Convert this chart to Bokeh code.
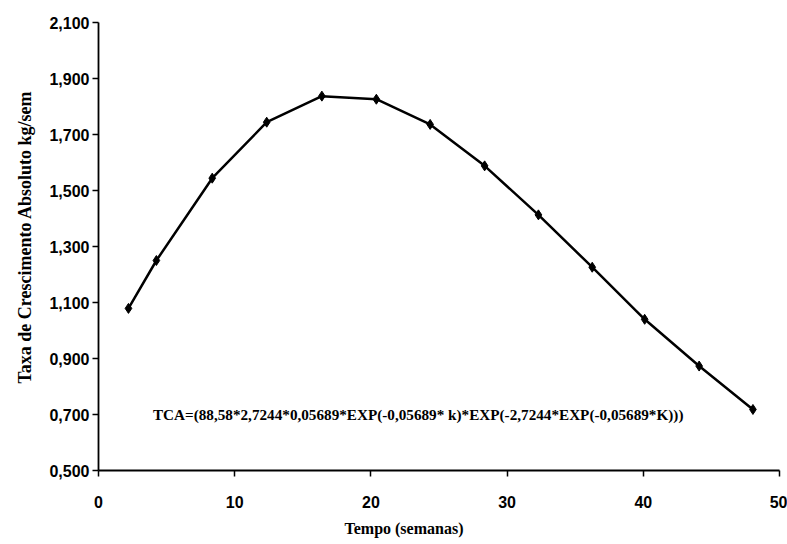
from bokeh.plotting import figure
from bokeh.models import Range1d, FixedTicker, Label, Title
from bokeh.embed import file_html
from bokeh.resources import INLINE

# Absolute growth rate (kg/week) over time (weeks)
weeks = [2.2, 4.25, 8.35, 12.35, 16.4, 20.4, 24.35, 28.35, 32.3, 36.25, 40.1, 44.1, 48.05]
growth_rate = [1.079, 1.250, 1.544, 1.744, 1.837, 1.826, 1.736, 1.588, 1.413, 1.226, 1.040, 0.873, 0.718]

x_ticks = [0, 10, 20, 30, 40, 50]
y_ticks = [0.5, 0.7, 0.9, 1.1, 1.3, 1.5, 1.7, 1.9, 2.1]
y_tick_labels = ["0,500", "0,700", "0,900", "1,100", "1,300", "1,500", "1,700", "1,900", "2,100"]

x_title = "Tempo (semanas)"
y_title = "Taxa de Crescimento Absoluto kg/sem"
equation = "TCA=(88,58*2,7244*0,05689*EXP(-0,05689* k)*EXP(-2,7244*EXP(-0,05689*K)))"

p = figure(width=787, height=544, output_backend="svg", toolbar_location=None,
           x_range=Range1d(0, 50), y_range=Range1d(0.5, 2.1),
           min_border_left=4, min_border_right=8, min_border_top=22, min_border_bottom=74)

p.outline_line_color = None
p.grid.grid_line_color = None
p.background_fill_color = "white"

p.line(weeks, growth_rate, line_color="black", line_width=2.5)
p.scatter(weeks, growth_rate, marker="diamond", size=10, fill_color="black", line_color="black")

sans = "Liberation Sans"
serif = "Liberation Serif"

for ax in (p.xaxis[0], p.yaxis[0]):
    ax.axis_line_color = "black"
    ax.axis_line_width = 1.8
    ax.major_tick_line_color = "black"
    ax.major_tick_line_width = 1.5
    ax.major_tick_in = 0
    ax.major_tick_out = 6
    ax.minor_tick_line_color = None
    ax.major_label_text_font = sans
    ax.major_label_text_font_style = "bold"
    ax.major_label_text_font_size = "16px"
    ax.major_label_text_color = "black"

p.xaxis.ticker = FixedTicker(ticks=x_ticks)
p.xaxis.major_label_standoff = 19

p.yaxis.ticker = FixedTicker(ticks=y_ticks)
p.yaxis.major_label_overrides = {t: s for t, s in zip(y_ticks, y_tick_labels)}
p.yaxis.major_label_standoff = 3

# Axis titles as side panels, shifted along the axis
p.add_layout(Title(text=x_title, text_font=serif, text_font_style="bold",
                   text_font_size="16px", text_color="black", vertical_align="bottom",
                   align="left", offset=246, standoff=15), "below")
p.add_layout(Title(text=y_title, text_font=serif, text_font_style="bold",
                   text_font_size="18px", text_color="black",
                   align="left", offset=87, standoff=24), "left")

p.add_layout(Label(x=4.0, y=0.70, text=equation, text_font=serif, text_font_style="bold",
                   text_font_size="15.2px", text_color="black", text_baseline="middle"))

open("out.html", "w").write(file_html(p, INLINE))
